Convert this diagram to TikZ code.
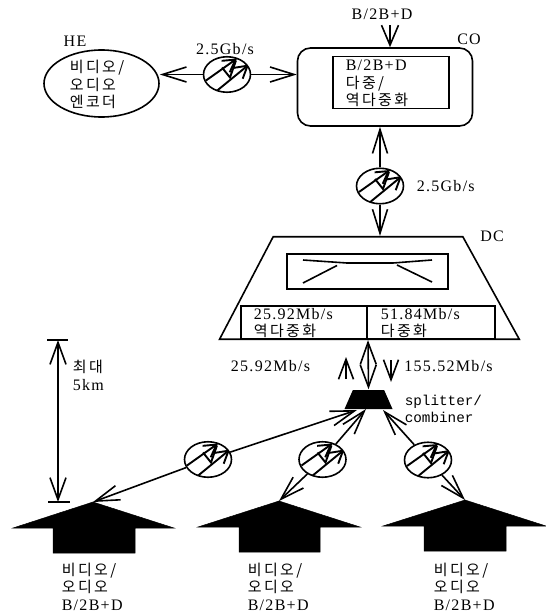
\documentclass[tikz,border=0pt]{standalone}
\usepackage{fontspec}
\usepackage{tikz}
\usetikzlibrary{shapes.geometric, arrows.meta, positioning, calc}
\setmainfont{Liberation Serif}[LetterSpace=8]
\newfontfamily\monofont{Liberation Mono}
\newfontfamily\korfont{Noto Sans CJK KR}[LetterSpace=16]
\newcommand{\kor}[1]{{\fontsize{15}{17.5}\korfont #1}}

\begin{document}
\begin{tikzpicture}[
    x=1pt, y=-1pt, line width=1.6pt,
    txt/.style={inner sep=0pt, align=left, font=\fontsize{16}{17.5}\selectfont},
    modem/.style={draw, ellipse, inner sep=0pt, minimum width=47pt, minimum height=35.5pt, path picture={
        \begin{scope}[shift={(path picture bounding box.center)}, x=1pt, y=-1pt, line width=1.9pt]
            \draw[-{Straight Barb[length=12pt,width=14pt]}] (-21,6) -- (10,-16);
            \draw[-{Straight Barb[length=12pt,width=14pt]}] (-11,17) -- (22,-10);
            \draw (-5,-7) -- (3,3) -- (9,-14);
        \end{scope}}},
    house/.style={fill=black, draw=black, line width=0.5pt},
    arrow/.style={-{Straight Barb[length=24pt,width=15pt]}},
    dblarrow/.style={{Straight Barb[length=22pt,width=16pt]}-{Straight Barb[length=22pt,width=16pt]}}
]
    \useasboundingbox (0,0) rectangle (546,613);

    % top row
    \node[draw, ellipse, minimum width=115pt, minimum height=67pt, inner sep=0pt] (he) at (101.5,83.5) {};
    \node[txt] (helabel) at (75,41) {HE};
    \node[txt, anchor=west] (hetext) at (69,84.5) {\kor{비디오/}\\\kor{오디오}\\\kor{엔코더}};
    \node[modem] (mod1) at (227,74.5) {};
    \node[txt] (rate1) at (225,49) {2.5Gb/s};
    \node[draw, rounded corners=13pt, minimum width=175pt, minimum height=78pt, inner sep=0pt] (co) at (385,87) {};
    \node[txt] (colabel) at (469,39) {CO};
    \node[draw, inner sep=0pt, minimum width=116.5pt, minimum height=51.7pt] (cobox) at (391,82.5) {};
    \node[txt, anchor=west] (cotext) at (345,83.5) {B/2B+D\\\kor{다중/}\\\kor{역다중화}};
    \node[txt] (bin) at (382,14) {B/2B+D};
    \coordinate (coin) at (390,25);

    \draw[arrow] (mod1) -- (mod1 -| he.east);
    \draw[arrow] (mod1) -- (mod1 -| co.west);
    \draw[-{Straight Barb[length=20pt,width=17pt]}] (coin) -- (coin |- co.north);

    % link to DC
    \node[modem] (mod2) at (380,186) {};
    \node[txt, anchor=west] (rate2) at (416,186) {2.5Gb/s};
    \draw[arrow] (mod2) -- (mod2 |- co.south);

    \node[draw, trapezium, trapezium stretches=true, trapezium left angle=69, trapezium right angle=68, minimum width=300pt, minimum height=102.5pt, inner sep=0pt] (dc) at (368,288) {\phantom{M}};
    \node[txt] (dclabel) at (492,236) {DC};
    \draw[arrow] (mod2) -- (mod2 |- dc.north);
    \node[draw, inner sep=0pt, minimum width=161pt, minimum height=35pt] (dcbox) at (367.5,271.5) {};
    \draw (303,260) -- (347,263) -- (393,263) -- (432,260);
    \draw (303,283) -- (337,265.5);
    \draw (432,282) -- (397,265);
    \node[draw, inner sep=0pt, minimum width=126pt, minimum height=33pt] (demux) at (304,322.5) {};
    \node[draw, inner sep=0pt, minimum width=128pt, minimum height=33pt] (mux) at (431,322.5) {};
    \node[txt, anchor=west] (demuxtext) at (253,323) {25.92Mb/s\\\kor{역다중화}};
    \node[txt, anchor=west] (muxtext) at (380,323) {51.84Mb/s\\\kor{다중화}};

    % splitter
    \node[fill=black, trapezium, trapezium stretches=true, trapezium left angle=70, trapezium right angle=70, minimum width=48pt, minimum height=19pt, inner sep=0pt] (split) at (368.5,399.5) {\phantom{M}};
    \draw[dblarrow] (dc.south) -- (split.north);
    \node[txt] (rateup) at (270.5,366) {25.92Mb/s};
    \node[txt] (ratedown) at (448.5,366) {155.52Mb/s};
    \coordinate (upa) at (346,379);
    \coordinate (upb) at (346,357);
    \coordinate (downa) at (391,360);
    \coordinate (downb) at (391,382);
    \draw[-{Straight Barb[length=20pt,width=15pt]}] (upa) -- (upb);
    \draw[-{Straight Barb[length=20pt,width=15pt]}] (downa) -- (downb);
    \node[txt, anchor=west, font=\fontsize{14.3}{17}\monofont] (splittext) at (404,408.5) {splitter/\\combiner};

    % span
    \coordinate (spantop) at (58,340);
    \coordinate (spanbot) at (58,502);
    \draw (47,340) -- (68,340);
    \draw (48,502) -- (70,502);
    \draw[dblarrow] (spantop) -- (spanbot);
    \node[txt, anchor=west] (spantext) at (72,375.5) {\kor{최대}\\5km};

    % subscribers
    \foreach \n/\ax/\ay/\lx/\rx/\bl/\br/\tx in {1/93/502/13/174/53/135/61, 2/279/501/198/360/239/320/247, 3/465/500/383/546/424/506/433} {
        \coordinate (roof\n) at (\ax,\ay);
        \fill[house] (roof\n) -- (\rx,\ay+26) -- (\br,\ay+26) -- (\br,\ay+51) -- (\bl,\ay+51) -- (\bl,\ay+26) -- (\lx,\ay+26) -- cycle;
        \node[txt, anchor=west] (sub\n) at (\tx,586.5) {\kor{비디오/}\\\kor{오디오}\\B/2B+D};
    }
    \node[modem] (mod3) at (208,459.5) {};
    \node[modem] (mod4) at (322.5,459.5) {};
    \node[modem] (mod5) at (428,460) {};
    \coordinate (splitl) at (357,410);
    \coordinate (splitm) at (366,409);
    \coordinate (splitr) at (383,410);
    \draw[arrow] (mod3) -- (splitl);
    \draw[arrow] (mod3) -- (roof1);
    \draw[arrow] (mod4) -- (splitm);
    \draw[arrow] (mod4) -- (roof2);
    \draw[arrow] (mod5) -- (splitr);
    \draw[arrow] (mod5) -- (roof3);
\end{tikzpicture}
\end{document}
